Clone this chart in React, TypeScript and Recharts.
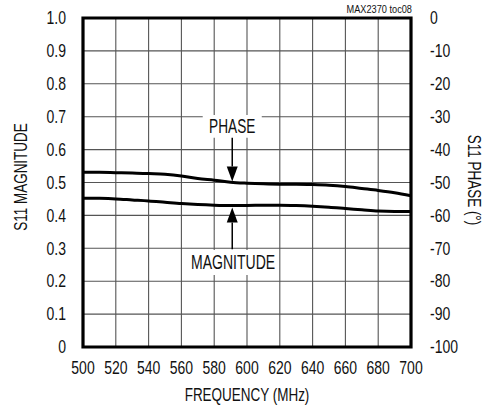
import React from "react";
import {
  LineChart,
  Line,
  XAxis,
  YAxis,
  CartesianGrid,
  ReferenceArea,
  ReferenceLine,
  Label,
} from "recharts";

const frequencies = [
  500, 510, 520, 530, 540, 550, 560, 570, 580, 590, 600, 610, 620, 630, 640,
  650, 660, 670, 680, 690, 700,
];
const magnitude = [
  0.452, 0.452, 0.45, 0.447, 0.444, 0.44, 0.436, 0.433, 0.431, 0.43, 0.43,
  0.431, 0.431, 0.43, 0.428, 0.425, 0.421, 0.417, 0.413, 0.412, 0.412,
];
const phase = [
  -46.9, -46.9, -47.0, -47.1, -47.3, -47.5, -48.0, -48.8, -49.3, -49.9, -50.2,
  -50.4, -50.5, -50.5, -50.6, -50.8, -51.2, -51.8, -52.4, -53.1, -54.0,
];
const freqTicks = [500, 520, 540, 560, 580, 600, 620, 640, 660, 680, 700];
const magTicks = [0, 0.1, 0.2, 0.3, 0.4, 0.5, 0.6, 0.7, 0.8, 0.9, 1.0];
const phaseTicks = [-100, -90, -80, -70, -60, -50, -40, -30, -20, -10, 0];

const data = frequencies.map((f, i) => ({
  freq: f,
  mag: magnitude[i],
  phase: phase[i],
}));

const FONT = '"Liberation Sans", Arial, sans-serif';
const FS = 17.5;
const SQUEEZE = 0.8; // fake a condensed face

// eslint-disable-next-line @typescript-eslint/no-explicit-any
type AnyProps = any;

const NarrowText = ({
  x,
  y,
  text,
  anchor = "middle",
  dy = "0.355em",
  size = FS,
  squeeze = SQUEEZE,
  rotate = 0,
}: {
  x: number;
  y: number;
  text: string;
  anchor?: "start" | "middle" | "end";
  dy?: string;
  size?: number;
  squeeze?: number;
  rotate?: number;
}) => (
  <g transform={`translate(${x},${y}) rotate(${rotate}) scale(${squeeze},1)`}>
    <text textAnchor={anchor} dy={dy} fontSize={size} fontFamily={FONT} fill="#111">
      {text}
    </text>
  </g>
);

const XTick = (props: AnyProps) => (
  <NarrowText x={props.x} y={props.y} text={String(props.payload.value)} dy="0.71em" />
);
const LeftTick = (props: AnyProps) => {
  const v = props.payload.value as number;
  return <NarrowText x={props.x} y={props.y} text={v === 0 ? "0" : v.toFixed(1)} anchor="end" />;
};
const RightTick = (props: AnyProps) => (
  <NarrowText x={props.x} y={props.y} text={String(props.payload.value)} anchor="start" />
);

const boxLabel = (text: string, squeeze: number) => (props: AnyProps) => {
  const { x, y, width, height } = props.viewBox;
  return <NarrowText x={x + width / 2} y={y + height / 2} text={text} size={19.5} squeeze={squeeze} />;
};

// shaft + filled arrowhead, head at the (x2, y2) end
const arrowShape = (props: AnyProps) => {
  const { x1, y1, x2, y2 } = props;
  const dir = y2 > y1 ? 1 : -1;
  const headLen = 15;
  const headHalf = 5.5;
  return (
    <g>
      <line x1={x1} y1={y1} x2={x2} y2={y2 - dir * headLen} stroke="#000" strokeWidth={1.5} />
      <polygon
        points={`${x2},${y2} ${x2 - headHalf},${y2 - dir * headLen} ${x2 + headHalf},${y2 - dir * headLen}`}
        fill="#000"
      />
    </g>
  );
};

export default function App() {
  return (
    <div style={{ position: "absolute", left: 0, top: 0, width: 484, height: 406, background: "#fff" }}>
      <LineChart
        width={484}
        height={406}
        data={data}
        margin={{ top: 18, right: 0, bottom: 0, left: 0 }}
      >
        <CartesianGrid stroke="#555" strokeWidth={1.1} horizontalValues={magTicks} verticalValues={freqTicks} yAxisId="left" />
        <XAxis
          dataKey="freq"
          type="number"
          domain={[500, 700]}
          ticks={freqTicks}
          axisLine={false}
          tickLine={false}
          tickSize={0}
          tickMargin={15}
          height={59}
          tick={<XTick />}
          interval={0}
        />
        <YAxis
          yAxisId="left"
          type="number"
          domain={[0, 1]}
          ticks={magTicks}
          axisLine={false}
          tickLine={false}
          tickSize={0}
          tickMargin={17}
          width={83}
          tick={<LeftTick />}
          interval={0}
        />
        <YAxis
          yAxisId="right"
          orientation="right"
          type="number"
          domain={[-100, 0]}
          ticks={phaseTicks}
          axisLine={false}
          tickLine={false}
          tickSize={0}
          tickMargin={19}
          width={73}
          tick={<RightTick />}
          interval={0}
        />

        <ReferenceArea yAxisId="left" x1={573} x2={609} y1={0.636} y2={0.705} fill="#fff" fillOpacity={1} stroke="none">
          <Label content={boxLabel("PHASE", 0.7)} />
        </ReferenceArea>
        <ReferenceArea yAxisId="left" x1={565} x2={618} y1={0.219} y2={0.295} fill="#fff" fillOpacity={1} stroke="none">
          <Label content={boxLabel("MAGNITUDE", 0.72)} />
        </ReferenceArea>

        <Line yAxisId="right" type="monotone" dataKey="phase" stroke="#000" strokeWidth={3} dot={false} isAnimationActive={false} />
        <Line yAxisId="left" type="monotone" dataKey="mag" stroke="#000" strokeWidth={3} dot={false} isAnimationActive={false} />

        <ReferenceLine yAxisId="left" segment={[{ x: 591, y: 0.636 }, { x: 591, y: 0.503 }]} shape={arrowShape} />
        <ReferenceLine yAxisId="left" segment={[{ x: 591, y: 0.297 }, { x: 591, y: 0.424 }]} shape={arrowShape} />

        <ReferenceArea yAxisId="left" x1={500} x2={700} y1={0} y2={1} fill="none" stroke="#000" strokeWidth={3.2} />
      </LineChart>
      <svg width={484} height={406} style={{ position: "absolute", left: 0, top: 0, pointerEvents: "none" }}>
        <NarrowText x={247} y={395} text="FREQUENCY (MHz)" squeeze={0.77} />
        <NarrowText x={21} y={177} text="S11 MAGNITUDE" rotate={-90} squeeze={0.77} />
        <NarrowText x={474} y={180} text="S11 PHASE (°)" rotate={90} squeeze={0.77} />
        <NarrowText x={412} y={9} text="MAX2370 toc08" anchor="end" size={11.5} squeeze={0.8} />
      </svg>
    </div>
  );
}
